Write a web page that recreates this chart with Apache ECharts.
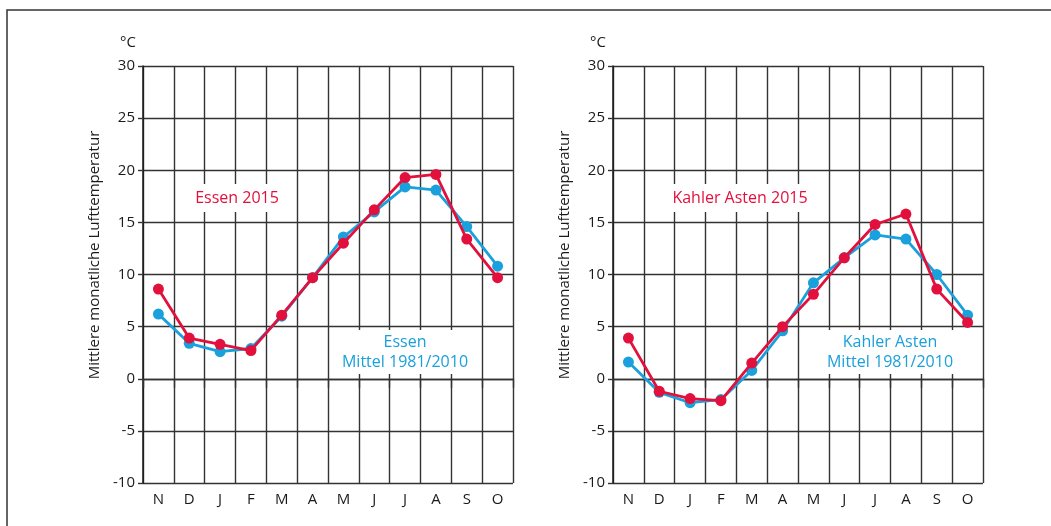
<!DOCTYPE html>
<html>
<head>
<meta charset="utf-8">
<script src="https://cdn.jsdelivr.net/npm/echarts@6/dist/echarts.min.js"></script>
<style>
html,body{margin:0;padding:0;background:#fff;}
#chart{width:1051px;height:526px;}
</style>
</head>
<body>
<div id="chart"></div>
<script>
const months = ['N','D','J','F','M','A','M','J','J','A','S','O'];
const yTicks = {min: -10, max: 30, interval: 5};
const essen2015 = [8.6, 3.9, 3.3, 2.7, 6.1, 9.7, 13.0, 16.2, 19.3, 19.6, 13.4, 9.7];
const essenMittel = [6.2, 3.4, 2.6, 2.9, 6.0, 9.7, 13.6, 16.0, 18.4, 18.1, 14.6, 10.8];
const kahler2015 = [3.9, -1.2, -1.9, -2.1, 1.5, 5.0, 8.1, 11.6, 14.8, 15.8, 8.6, 5.4];
const kahlerMittel = [1.6, -1.3, -2.3, -2.0, 0.8, 4.6, 9.2, 11.6, 13.8, 13.4, 10.0, 6.1];
const yAxisTitle = 'Mittlere monatliche Lufttemperatur';
const unitLabel = '°C';
const labelEssen2015 = 'Essen 2015';
const labelEssenMittel = 'Essen\nMittel 1981/2010';
const labelKahler2015 = 'Kahler Asten 2015';
const labelKahlerMittel = 'Kahler Asten\nMittel 1981/2010';

const RED = '#e2103c';
const BLUE = '#1aa0dc';
const GRID = '#333333';
const FONT = 'Open Sans';

function xAx(gi) {
  return {
    type: 'category', gridIndex: gi, data: months, boundaryGap: true,
    axisLine: {show: true, lineStyle: {color: GRID, width: 1.4}},
    axisTick: {show: true, interval: 0, length: 9, lineStyle: {color: GRID, width: 1.4}},
    axisLabel: {interval: 0, margin: 9, fontSize: 15, color: '#1a1a1a', fontFamily: FONT},
    splitLine: {show: true, interval: 0, lineStyle: {color: GRID, width: 1.4}}
  };
}
function yAx(gi) {
  return {
    type: 'value', gridIndex: gi, min: yTicks.min, max: yTicks.max, interval: yTicks.interval,
    axisLine: {show: true, lineStyle: {color: '#1a1a1a', width: 1.5}},
    axisTick: {show: true, length: 5, lineStyle: {color: GRID, width: 1.4}},
    axisLabel: {margin: 8, fontSize: 15, color: '#1a1a1a', fontFamily: FONT},
    splitLine: {show: true, lineStyle: {color: GRID, width: 1.4}}
  };
}
function ser(gi, data, color, z) {
  return {
    type: 'line', xAxisIndex: gi, yAxisIndex: gi, data: data,
    symbol: 'circle', symbolSize: 11, showSymbol: true, z: z,
    lineStyle: {color: color, width: 2.8},
    itemStyle: {color: color},
    emphasis: {disabled: true}, animation: false
  };
}
function txt(x, y, text, color, pad) {
  return {
    type: 'text', x: x, y: y, z: 100,
    style: {
      text: text, fill: color, font: '16px "' + FONT + '"',
      align: 'center', verticalAlign: 'middle', lineHeight: 20,
      backgroundColor: '#fff', padding: pad
    }
  };
}
function plain(x, y, text, rot, size) {
  return {
    type: 'text', x: x, y: y, rotation: rot || 0, z: 100,
    style: {
      text: text, fill: '#1a1a1a', font: (size || 15) + 'px "' + FONT + '"',
      align: 'center', verticalAlign: 'middle'
    }
  };
}

const chart = echarts.init(document.getElementById('chart'), null, {renderer: 'canvas'});
chart.setOption({
  animation: false,
  backgroundColor: '#fff',
  grid: [
    {left: 143, right: 538, top: 66, bottom: 43},
    {left: 613, right: 68, top: 66, bottom: 43}
  ],
  xAxis: [xAx(0), xAx(1)],
  yAxis: [yAx(0), yAx(1)],
  series: [
    ser(0, essenMittel, BLUE, 3),
    ser(0, essen2015, RED, 4),
    ser(1, kahlerMittel, BLUE, 3),
    ser(1, kahler2015, RED, 4)
  ],
  graphic: [
    {type: 'polyline', shape: {points: [[7, 526], [7, 10], [1051, 10]]}, style: {stroke: '#333', lineWidth: 1.5, fill: null}, z: 100},
    plain(128, 43, unitLabel),
    plain(598, 43, unitLabel),
    plain(95, 255, yAxisTitle, Math.PI / 2),
    plain(565, 255, yAxisTitle, Math.PI / 2),
    txt(237, 198, labelEssen2015, RED, [4, 10]),
    txt(405, 352, labelEssenMittel, BLUE, [2, 10]),
    txt(740, 198, labelKahler2015, RED, [4, 8]),
    txt(890, 352, labelKahlerMittel, BLUE, [2, 10])
  ]
});
</script>
</body>
</html>
